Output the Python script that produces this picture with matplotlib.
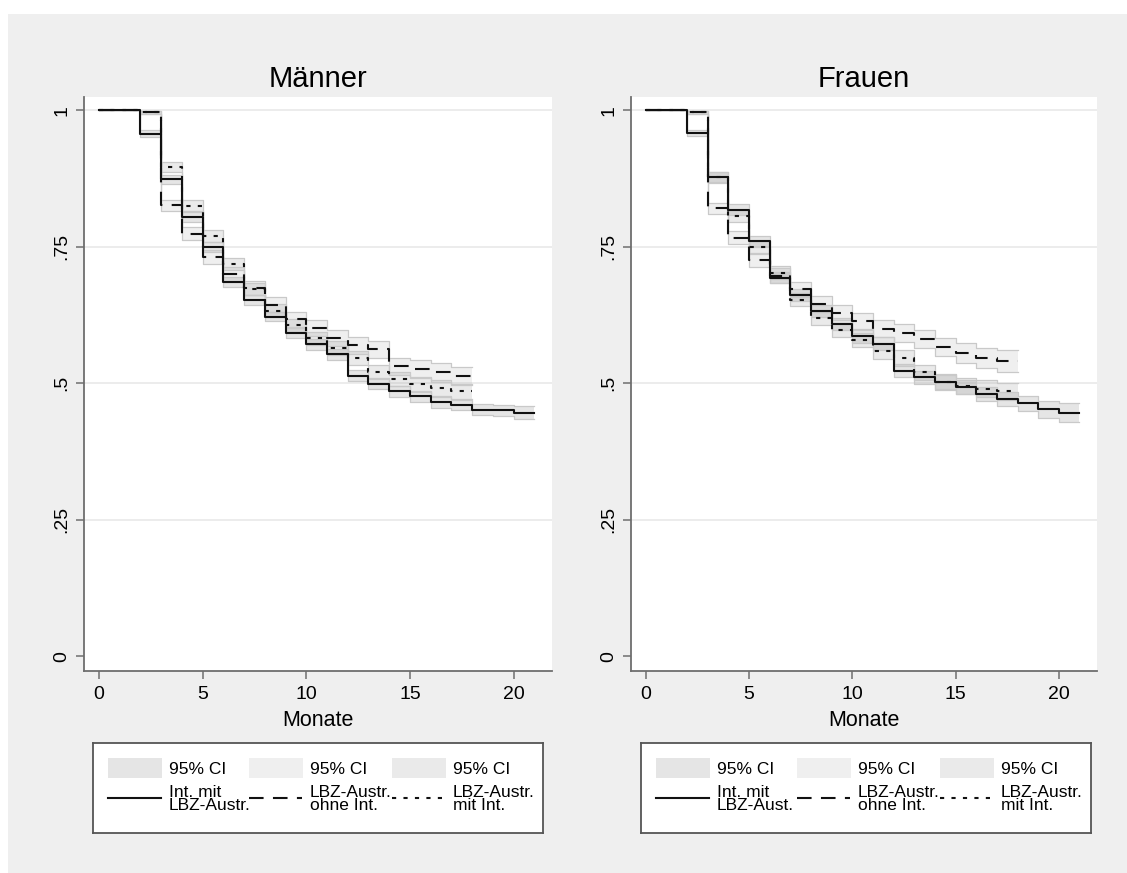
import matplotlib
matplotlib.use("Agg")
import matplotlib.pyplot as plt
from matplotlib.patches import Rectangle
import numpy as np

plt.rcParams['font.family'] = ['Liberation Sans', 'DejaVu Sans']

# ---------------- data (survival values at start of each month) ----------------
panel_titles = ["Männer", "Frauen"]
x_ticks = [0, 5, 10, 15, 20]
y_ticks = [0, 0.25, 0.5, 0.75, 1]
y_ticklabels = ["0", ".25", ".5", ".75", "1"]
x_label = "Monate"

# Männer
m_int = [1.0, 1.0, 0.957, 0.873, 0.804, 0.749, 0.685, 0.652, 0.622, 0.592, 0.571,
         0.553, 0.514, 0.499, 0.485, 0.476, 0.465, 0.460, 0.451, 0.450, 0.446]
m_ohne = [1.0, 1.0, 0.996, 0.826, 0.774, 0.731, 0.699, 0.675, 0.644, 0.617, 0.601,
          0.583, 0.569, 0.562, 0.531, 0.526, 0.520, 0.513]
m_mit = [1.0, 1.0, 0.996, 0.896, 0.825, 0.769, 0.718, 0.673, 0.633, 0.606, 0.582,
         0.564, 0.546, 0.520, 0.507, 0.498, 0.491, 0.485]
# CI half widths
m_int_hw = [0, 0, 0.006, 0.008, 0.009, 0.009, 0.009, 0.009, 0.009, 0.009, 0.010,
            0.010, 0.010, 0.010, 0.010, 0.010, 0.010, 0.010, 0.010, 0.010, 0.012]
m_ohne_hw = [0, 0, 0.003, 0.010, 0.012, 0.012, 0.013, 0.013, 0.013, 0.014, 0.014,
             0.015, 0.015, 0.016, 0.016, 0.016, 0.017, 0.017]
m_mit_hw = [0, 0, 0.003, 0.009, 0.010, 0.011, 0.011, 0.011, 0.012, 0.012, 0.012,
            0.013, 0.013, 0.013, 0.013, 0.014, 0.014, 0.014]

# Frauen
f_int = [1.0, 1.0, 0.958, 0.878, 0.818, 0.760, 0.693, 0.661, 0.632, 0.609, 0.586,
         0.572, 0.523, 0.511, 0.502, 0.493, 0.480, 0.471, 0.463, 0.452, 0.446]
f_ohne = [1.0, 1.0, 0.996, 0.820, 0.766, 0.725, 0.697, 0.672, 0.645, 0.629, 0.614,
          0.600, 0.592, 0.581, 0.566, 0.555, 0.546, 0.540]
f_mit = [1.0, 1.0, 0.996, 0.877, 0.806, 0.749, 0.702, 0.653, 0.620, 0.598, 0.579,
         0.559, 0.546, 0.520, 0.502, 0.495, 0.490, 0.485]
f_int_hw = [0, 0, 0.006, 0.009, 0.010, 0.010, 0.010, 0.011, 0.011, 0.011, 0.012,
            0.012, 0.012, 0.012, 0.013, 0.013, 0.013, 0.013, 0.014, 0.015, 0.017]
f_ohne_hw = [0, 0, 0.003, 0.010, 0.012, 0.013, 0.013, 0.014, 0.014, 0.014, 0.015,
             0.015, 0.016, 0.016, 0.017, 0.018, 0.019, 0.020]
f_mit_hw = [0, 0, 0.003, 0.010, 0.011, 0.012, 0.012, 0.012, 0.013, 0.013, 0.013,
            0.014, 0.014, 0.014, 0.015, 0.015, 0.015, 0.016]

legend_ci = ["95% CI", "95% CI", "95% CI"]
legend_lines_m = ["Int. mit\nLBZ-Austr.", "LBZ-Austr.\nohne Int.", "LBZ-Austr.\nmit Int."]
legend_lines_f = ["Int. mit\nLBZ-Aust.", "LBZ-Austr.\nohne Int.", "LBZ-Austr.\nmit Int."]

panels = [
    (panel_titles[0], [(m_int, m_int_hw), (m_ohne, m_ohne_hw), (m_mit, m_mit_hw)], legend_lines_m),
    (panel_titles[1], [(f_int, f_int_hw), (f_ohne, f_ohne_hw), (f_mit, f_mit_hw)], legend_lines_f),
]

# ---------------- styles ----------------
line_styles = ['-', (0, (7, 4.5)), (0, (2, 3.5))]
band_alpha = [0.25, 0.15, 0.20]
band_color = '#999999'
band_edge = '#c9c9c9'
axis_color = '#6e6e6e'
bg_gray = '#efefef'

W, H = 1127, 873
fig = plt.figure(figsize=(W / 100, H / 100), dpi=100, facecolor='white')
fig.patches.append(Rectangle((8 / W, 0), 1 - 8 / W, 1 - 14 / H, transform=fig.transFigure,
                             facecolor=bg_gray, edgecolor='none', zorder=-10))

def px_axes(x0, y0, x1, y1):
    return fig.add_axes([x0 / W, (H - y1) / H, (x1 - x0) / W, (y1 - y0) / H])

axes_px = [(84, 97, 552, 671), (631, 97, 1097, 671)]
legend_px = [(93, 743, 543, 833), (641, 743, 1091, 833)]

for (title, series, leg_lines), apx, lpx in zip(panels, axes_px, legend_px):
    ax = px_axes(*apx)
    ax.set_facecolor('white')
    for (vals, hw), ls, al in zip(series, line_styles, band_alpha):
        v = np.array(vals + [vals[-1]])
        h = np.array(hw + [hw[-1]])
        t = np.arange(len(v))
        ax.fill_between(t, v - h, v + h, step='post', facecolor=band_color,
                        alpha=al, edgecolor='none', zorder=2)
        ax.plot(t, v - h, drawstyle='steps-post', color=band_edge, lw=0.9, zorder=2.5)
        ax.plot(t, v + h, drawstyle='steps-post', color=band_edge, lw=0.9, zorder=2.5)
        ax.plot(t, v, drawstyle='steps-post', color='#111111', lw=1.5,
                linestyle=ls, zorder=3)
    ax.set_xlim(-0.72, 21.85)
    ax.set_ylim(-0.027, 1.024)
    for yv in y_ticks[1:]:
        ax.axhline(yv, color='#e9e9e9', lw=1.2, zorder=1)
    ax.set_xticks(x_ticks)
    ax.set_yticks(y_ticks)
    ax.set_yticklabels(y_ticklabels)
    ax.tick_params(axis='both', colors=axis_color, labelcolor='black', length=6,
                   width=1.1, direction='out', labelsize=14)
    ax.tick_params(axis='y', labelrotation=90, pad=4)
    ax.tick_params(axis='x', pad=4.5)
    for lab in ax.get_yticklabels():
        lab.set_va('center')
    for s in ['top', 'right']:
        ax.spines[s].set_visible(False)
    for s in ['left', 'bottom']:
        ax.spines[s].set_color(axis_color)
        ax.spines[s].set_linewidth(1.3)
    ax.set_xlabel(x_label, fontsize=15.5, labelpad=5)
    ax.set_title(title, fontsize=21, pad=7)

    # legend box
    lg = px_axes(*lpx)
    lw_ = lpx[2] - lpx[0]
    lh_ = lpx[3] - lpx[1]
    lg.set_xlim(0, lw_)
    lg.set_ylim(lh_, 0)
    lg.set_xticks([])
    lg.set_yticks([])
    lg.set_facecolor('white')
    for s in lg.spines.values():
        s.set_color('#555555')
        s.set_linewidth(1.3)
    col_x = [15, 156, 299]
    for i, (cx, ls, al) in enumerate(zip(col_x, line_styles, band_alpha)):
        lg.add_patch(Rectangle((cx, 15), 54, 20, facecolor=band_color, alpha=al,
                               edgecolor='none'))
        lg.text(cx + 61, 26, legend_ci[i], fontsize=12.5, va='center', ha='left')
        lg.plot([cx, cx + 53], [55, 55], color='#111111', lw=1.5, linestyle=ls)
        lg.text(cx + 61, 56, leg_lines[i], fontsize=12.5, va='center', ha='left',
                linespacing=0.9)

fig.savefig('out.png', dpi=100, facecolor='white')
